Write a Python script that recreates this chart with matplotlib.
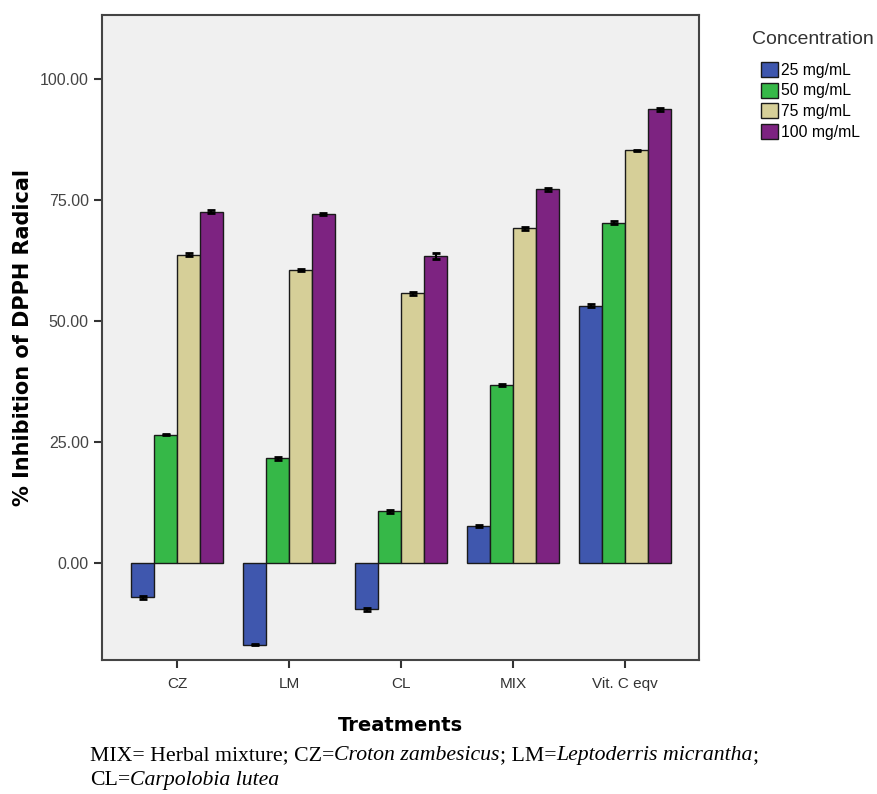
import matplotlib.pyplot as plt
import numpy as np

# data
treatments = ['CZ', 'LM', 'CL', 'MIX', 'Vit. C eqv']
concentrations = ['25 mg/mL', '50 mg/mL', '75 mg/mL', '100 mg/mL']
inhibition_25 = [-7.0, -16.8, -9.5, 7.6, 53.2]
inhibition_50 = [26.6, 21.7, 10.7, 36.9, 70.4]
inhibition_75 = [63.8, 60.6, 55.8, 69.2, 85.3]
inhibition_100 = [72.6, 72.1, 63.5, 77.3, 93.8]
err_25 = [0.3, 0.2, 0.3, 0.2, 0.3]
err_50 = [0.2, 0.3, 0.3, 0.2, 0.3]
err_75 = [0.3, 0.3, 0.3, 0.3, 0.2]
err_100 = [0.3, 0.2, 0.6, 0.3, 0.3]
yticks = [0, 25, 50, 75, 100]

colors = ['#3F57AE', '#36B848', '#D6CF98', '#7D2381']
series = [inhibition_25, inhibition_50, inhibition_75, inhibition_100]
errors = [err_25, err_50, err_75, err_100]

fig = plt.figure(figsize=(8.77, 7.94), dpi=100)
ax = fig.add_axes([102 / 877, 1 - 660 / 794, 597 / 877, 645 / 794])
ax.set_facecolor('#F0F0F0')

x = np.arange(len(treatments))
width = 0.205
for i, (vals, errs) in enumerate(zip(series, errors)):
    pos = x + (i - 1.5) * width
    ax.bar(pos, vals, width, color=colors[i], edgecolor='#1a1a1a', linewidth=1.0,
           label=concentrations[i], zorder=2)
    ax.errorbar(pos, vals, yerr=errs, fmt='none', ecolor='black', elinewidth=1.5,
                capsize=3, capthick=2, zorder=3)

ax.set_xlim(-0.67, 4.66)
ax.set_ylim(-20.0, 113.3)
ax.set_xticks(x)
ax.set_xticklabels(treatments, fontsize=11, color='#333333', family='Liberation Sans')
ax.set_yticks(yticks)
ax.set_yticklabels(['%.2f' % v for v in yticks], fontsize=11.5, color='#444444',
                   family='Liberation Sans')
ax.tick_params(axis='both', direction='out', length=6, width=1.5, color='#333333')
ax.tick_params(axis='x', pad=6)
for s in ax.spines.values():
    s.set_color('#444444')
    s.set_linewidth(1.5)

ax.set_ylabel('% Inhibition of DPPH Radical', fontsize=15, fontweight='bold', labelpad=5)
ax.set_xlabel('Treatments', fontsize=14, fontweight='bold', labelpad=18)

# legend: title drawn on its own so it can sit further above the entries
fig.text(813 / 877, 1 - 40 / 794, 'Concentration', ha='center', va='center',
         fontsize=14, color='#333333', family='Liberation Sans')
ax.legend(loc='upper left', bbox_to_anchor=(761 / 877, 1 - 62 / 794),
          bbox_transform=fig.transFigure, frameon=False,
          prop={'family': 'Liberation Sans', 'size': 11.3},
          handlelength=1.1, handleheight=1.1, handletextpad=0.2,
          labelspacing=0.3, borderaxespad=0, borderpad=0)

# caption, with italic species names chained one after another
line1 = [('MIX= Herbal mixture; CZ=', 'normal'), ('Croton zambesicus', 'italic'),
         ('; LM=', 'normal'), ('Leptoderris micrantha', 'italic'), (';', 'normal')]
line2 = [('CL=', 'normal'), ('Carpolobia lutea', 'italic')]

for parts, y in [(line1, 1 - 765 / 794), (line2, 1 - 790 / 794)]:
    prev = None
    for txt, style in parts:
        if prev is None:
            prev = fig.text(90 / 877, y, txt, family='Liberation Serif', style=style,
                            fontsize=15.7, va='bottom')
        else:
            prev = ax.annotate(txt, xy=(1, 0), xycoords=prev, va='bottom', ha='left',
                               family='Liberation Serif', style=style, fontsize=15.7,
                               annotation_clip=False)

fig.savefig('out.png', dpi=100)
